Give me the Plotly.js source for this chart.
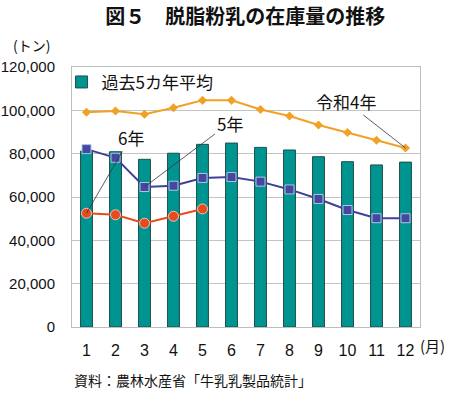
<!DOCTYPE html>
<html><head><meta charset="utf-8">
<script src="https://cdn.plot.ly/plotly-3.0.1.min.js"></script>
<style>html,body{margin:0;padding:0;background:#fff}#chart{width:450px;height:393px}</style>
</head><body><div id="chart"></div>
<script>
const months = [1,2,3,4,5,6,7,8,9,10,11,12];
const monthLabels = ["1","2","3","4","5","6","7","8","9","10","11","12"];
const avg5yr = [81200,80900,77400,80200,84300,84900,82900,81700,78600,76300,74800,76100];
const r4 = [99100,99700,98200,101200,104600,104600,100400,97400,93200,89800,86200,82600];
const r5 = [82100,78100,64600,65200,68800,69200,67100,63500,59100,54000,50200,50200];
const r6 = [52500,51800,47900,51100,54500];
const yTicks = [0,20000,40000,60000,80000,100000,120000];
const yTickLabels = ["0","20,000","40,000","60,000","80,000","100,000","120,000"];

const FONT = "Liberation Sans, Arial, sans-serif";
const JFONT = "Noto Sans CJK JP, sans-serif";

const traces = [
  {type:"bar", x:months, y:avg5yr, name:"過去5カ年平均", width:0.41,
   marker:{color:"#009490", line:{color:"#1d4f4b", width:1}}, showlegend:true},
  {type:"scatter", mode:"lines+markers", x:months, y:r4, showlegend:false,
   line:{color:"#F2A127", width:2}, marker:{symbol:"diamond", size:7, color:"#F2A127"}},
  {type:"scatter", mode:"lines+markers", x:months, y:r5, showlegend:false,
   line:{color:"#40409A", width:2}, marker:{symbol:"square", size:9, color:"#47479F", line:{color:"#a8c8e8", width:1}}},
  {type:"scatter", mode:"lines+markers", x:months.slice(0, r6.length), y:r6, showlegend:false,
   line:{color:"#E64A1E", width:2}, marker:{symbol:"circle", size:10, color:"#E64A1E", line:{color:"#f5c4b0", width:1}}}
];

const annFont = {family:JFONT, size:17, color:"#111"};
const layout = {
  width:450, height:393,
  margin:{l:72, r:30, t:67, b:66},
  paper_bgcolor:"#fff", plot_bgcolor:"#fff",
  font:{family:FONT, size:16, color:"#111"},
  title:{text:"<b>図５　脱脂粉乳の在庫量の推移</b>", font:{family:JFONT, size:20, color:"#111"}, x:0.498, xanchor:"center", y:0.957, yanchor:"middle", xref:"paper"},
  xaxis:{range:[0.5,12.5], tickvals:months, ticktext:monthLabels, showgrid:false, zeroline:false,
         showline:true, linecolor:"#bdbdbd", linewidth:1, mirror:true, ticks:"outside", ticklen:9, tickcolor:"rgba(0,0,0,0)",
         tickfont:{family:FONT, size:16, color:"#111"}},
  yaxis:{range:[0,120000], tickvals:yTicks, ticktext:yTickLabels, showgrid:true, gridcolor:"#c4c4c4", gridwidth:1,
         zeroline:false, showline:true, linecolor:"#bdbdbd", linewidth:1, mirror:true,
         ticks:"outside", ticklen:13, tickcolor:"rgba(0,0,0,0)", tickfont:{family:FONT, size:15, color:"#111"}},
  legend:{x:-0.03, y:1.01, xanchor:"left", yanchor:"top", bgcolor:"rgba(0,0,0,0)", font:{family:JFONT, size:17, color:"#111"}, itemwidth:30},
  annotations:[
    {x:1, y:r6[0], xref:"x", yref:"y", text:"6年", ax:44, ay:-76, showarrow:true, arrowhead:0, arrowwidth:0.8, arrowcolor:"#333", standoff:0, font:annFont},
    {x:3, y:r5[2], xref:"x", yref:"y", text:"5年", ax:85, ay:-64, showarrow:true, arrowhead:0, arrowwidth:0.8, arrowcolor:"#333", standoff:0, font:annFont},
    {x:12, y:r4[11], xref:"x", yref:"y", text:"令和4年", ax:-60, ay:-47, showarrow:true, arrowhead:0, arrowwidth:0.8, arrowcolor:"#333", standoff:0, font:annFont},
    {text:"(トン)", xref:"paper", yref:"paper", x:-0.175, y:1.085, showarrow:false, xanchor:"left", yanchor:"middle", font:{family:JFONT, size:14, color:"#111"}},
    {text:"(月)", xref:"paper", yref:"paper", x:1.078, y:-0.07, showarrow:false, xanchor:"right", yanchor:"middle", font:{family:JFONT, size:15, color:"#111"}},
    {text:"資料：農林水産省「牛乳乳製品統計」", xref:"paper", yref:"paper", x:0.0, y:-0.205, showarrow:false, xanchor:"left", yanchor:"middle", font:{family:JFONT, size:14, color:"#111"}}
  ]
};

Plotly.newPlot("chart", traces, layout, {displayModeBar:false, staticPlot:true});
</script></body></html>
